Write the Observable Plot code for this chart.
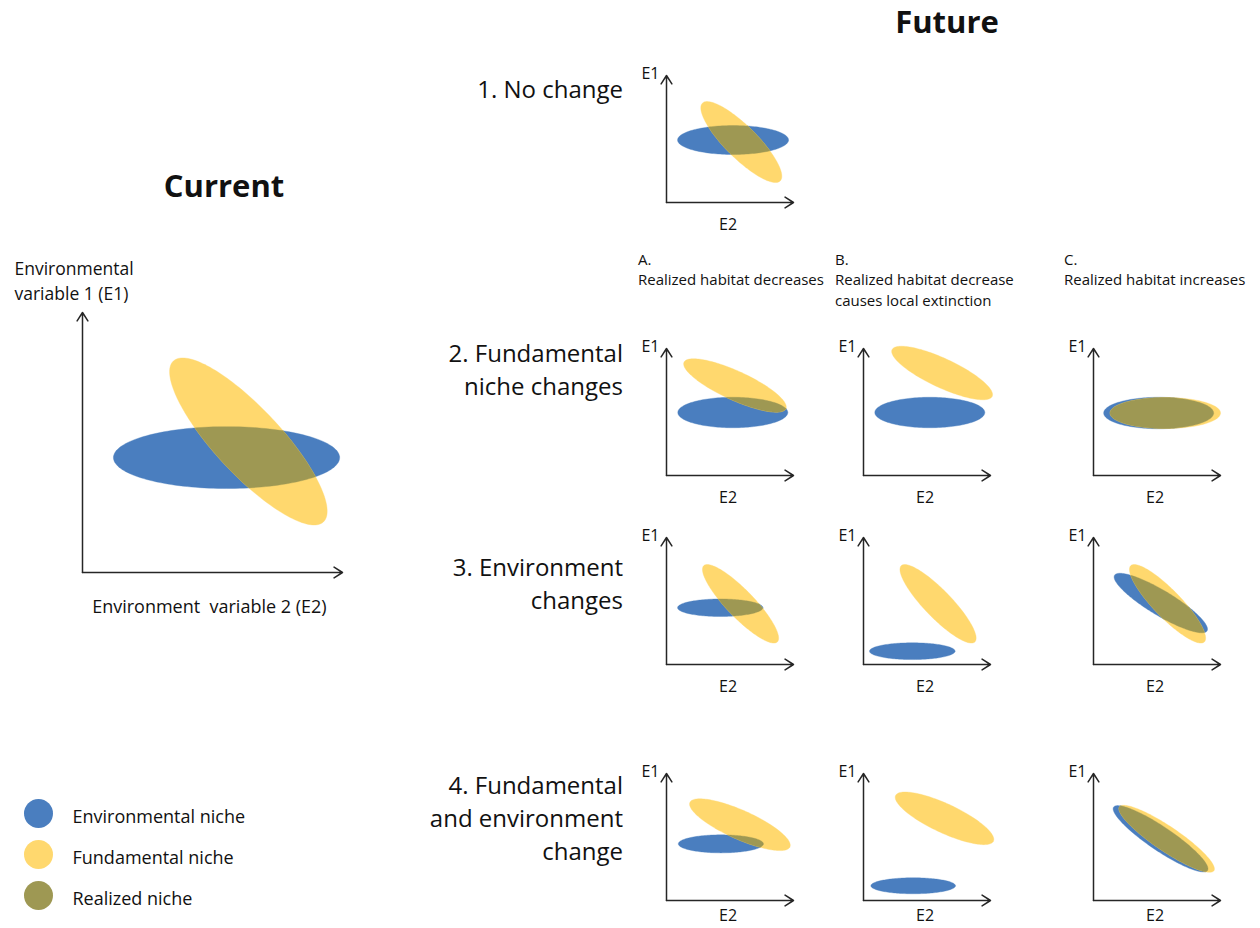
<!DOCTYPE html>
<html><head><meta charset="utf-8">
<script src="https://cdn.jsdelivr.net/npm/d3@7"></script>
<script src="https://cdn.jsdelivr.net/npm/@observablehq/plot@0.6"></script>
<style>
body{margin:0;background:#fff;}
#page{position:relative;width:1260px;height:928px;overflow:hidden;font-family:"Open Sans",sans-serif;color:#111;}
.t{position:absolute;white-space:pre;}
.title{font-weight:700;font-size:31px;line-height:31px;width:240px;text-align:center;}
.row{font-size:24px;line-height:33px;width:360px;text-align:right;}
.col{font-size:15px;line-height:20.5px;}
.panel{position:absolute;}
.panel svg{overflow:visible;}
</style></head><body><div id="page"></div>
<script>
// ---------- data ----------
const legendLabels = ["Environmental niche", "Fundamental niche", "Realized niche"];
const nicheColors = ["#4a7ebf", "#ffd86e", "#9e9853"];
const panelNames = ["current", "1", "2A", "2B", "2C", "3A", "3B", "3C", "4A", "4B", "4C"];
// environmental niche ellipses (axis units, 0–100)
const envCx    = [55.4, 52.4, 52.2, 52.2, 51.3, 42.3, 38.4, 53.0, 42.8, 39.1, 52.8];
const envCy    = [44.2, 49.2, 49.6, 49.6, 49.2, 44.7, 10.5, 48.4, 44.6, 11.6, 48.6];
const envRx    = [43.5, 43.7, 43.3, 43.3, 43.3, 33.6, 33.7, 42.5, 33.5, 33.3, 44.6];
const envRy    = [11.9, 11.4, 12.0, 12.0, 12.4,  6.9,  6.6,  9.8,  7.1,  6.3,  9.4];
const envAngle = [0, 0, 0, 0, 0, 0, 0, -31, 0, 0, -34];
// fundamental niche ellipses
const fundCx    = [63.8, 58.9, 53.9, 61.9, 56.5, 58.3, 58.7, 58.3, 57.8, 63.8, 57.6];
const fundCy    = [50.4, 47.6, 70.9, 80.7, 49.2, 47.8, 47.8, 47.8, 59.7, 64.7, 48.6];
const fundRx    = [42.3, 43.3, 44.1, 43.5, 43.5, 41.7, 41.7, 41.7, 43.1, 42.5, 44.9];
const fundRy    = [12.7, 12.6, 11.4, 11.4, 12.2, 10.8, 10.8, 10.8, 11.4, 11.4,  9.7];
const fundAngle = [-47, -45, -24.5, -25, 0, -46, -46, -46, -24, -25, -34];
const axisRange = [0, 100];
const smallAxisLabels = ["E1", "E2"];
const currentAxisLabels = ["Environmental\nvariable 1 (E1)", "Environment\u00a0 variable 2 (E2)"];
const titles = ["Current", "Future"];
const rowTitles = ["1. No change", "2. Fundamental\nniche changes", "3. Environment\nchanges", "4. Fundamental\nand environment\nchange"];
const colHeads = ["A.\nRealized habitat decreases", "B.\nRealized habitat decrease\ncauses local extinction", "C.\nRealized habitat increases"];

// ---------- geometry helpers ----------
function ellipse(cx, cy, rx, ry, deg, n = 160) {
  const th = deg * Math.PI / 180, c = Math.cos(th), s = Math.sin(th);
  return d3.range(n).map(k => {
    const t = 2 * Math.PI * k / n, ex = rx * Math.cos(t), ey = ry * Math.sin(t);
    return [cx + ex * c - ey * s, cy + ex * s + ey * c];
  });
}
function clipConvex(subject, clipPoly) {
  let out = subject;
  for (let i = 0; i < clipPoly.length && out.length; i++) {
    const A = clipPoly[i], B = clipPoly[(i + 1) % clipPoly.length];
    const inside = p => (B[0] - A[0]) * (p[1] - A[1]) - (B[1] - A[1]) * (p[0] - A[0]) >= 0;
    const inter = (P, Q) => {
      const den = (P[0] - Q[0]) * (A[1] - B[1]) - (P[1] - Q[1]) * (A[0] - B[0]);
      const t = ((P[0] - A[0]) * (A[1] - B[1]) - (P[1] - A[1]) * (A[0] - B[0])) / den;
      return [P[0] + t * (Q[0] - P[0]), P[1] + t * (Q[1] - P[1])];
    };
    const inp = out; out = [];
    for (let j = 0; j < inp.length; j++) {
      const P = inp[j], Q = inp[(j + 1) % inp.length];
      const pin = inside(P), qin = inside(Q);
      if (pin) { out.push(P); if (!qin) out.push(inter(P, Q)); }
      else if (qin) out.push(inter(P, Q));
    }
  }
  return out;
}
const pts = a => a.map(([x, y]) => ({x, y}));

// ---------- layout ----------
const page = document.getElementById("page");
function addDiv(cls, text, css) {
  const d = document.createElement("div");
  d.className = "t " + cls; d.textContent = text;
  Object.assign(d.style, css); page.appendChild(d); return d;
}
const SMALL = {size: 127, ml: 40, mt: 16, mr: 14, mb: 36};
const BIG = {size: 260, ml: 80, mt: 70, mr: 14, mb: 50};
const origins = {
  current: [82, 572],
  "1": [666, 202],
  "2A": [666, 475], "2B": [863, 475], "2C": [1092.7, 475],
  "3A": [666, 664], "3B": [863, 664], "3C": [1092.7, 664],
  "4A": [666, 900], "4B": [863, 900], "4C": [1092.7, 900]
};

function panel(i) {
  const name = panelNames[i];
  const big = name === "current";
  const L = big ? BIG : SMALL;
  const env = ellipse(envCx[i], envCy[i], envRx[i], envRy[i], envAngle[i]);
  const fund = ellipse(fundCx[i], fundCy[i], fundRx[i], fundRy[i], fundAngle[i]);
  const real = clipConvex(env, fund);
  const axes = [
    {x1: axisRange[0], y1: axisRange[0], x2: axisRange[0], y2: axisRange[1]},
    {x1: axisRange[0], y1: axisRange[0], x2: axisRange[1], y2: axisRange[0]}
  ];
  const shape = (data, color) => Plot.line(pts(data), {x: "x", y: "y", fill: color, stroke: color, strokeWidth: 0.6, strokeOpacity: 0.6, curve: "linear-closed"});
  const marks = [
    shape(env, nicheColors[0]),
    shape(fund, nicheColors[1]),
    real.length > 2 ? shape(real, nicheColors[2]) : null,
    Plot.arrow(axes, {x1: "x1", y1: "y1", x2: "x2", y2: "y2", stroke: "#262626", strokeWidth: 1.5, headLength: 10, headAngle: 65})
  ];
  if (big) {
    marks.push(Plot.text([currentAxisLabels[0]], {x: 0, y: 100, text: d => d, textAnchor: "start", lineAnchor: "top", dx: -68, dy: -55, fontSize: 17.5, lineHeight: 1.43}));
    marks.push(Plot.text([currentAxisLabels[1]], {x: 48.8, y: 0, text: d => d, lineAnchor: "top", dy: 28, fontSize: 18}));
  } else {
    const bottomRow = name.startsWith("4");
    marks.push(Plot.text([smallAxisLabels[0]], {x: 0, y: 100, text: d => d, textAnchor: "end", lineAnchor: "top", dx: -7, dy: -7.5, fontSize: 16}));
    marks.push(Plot.text([smallAxisLabels[1]], {x: 48.5, y: 0, text: d => d, lineAnchor: "top", dy: bottomRow ? 9.5 : 16.3, fontSize: 16}));
  }
  const svg = Plot.plot({
    width: L.ml + L.size + L.mr, height: L.mt + L.size + L.mb,
    marginLeft: L.ml, marginTop: L.mt, marginRight: L.mr, marginBottom: L.mb,
    x: {domain: axisRange, axis: null}, y: {domain: axisRange, axis: null},
    style: {fontFamily: "'Open Sans', sans-serif", color: "#111", background: "transparent"},
    marks
  });
  const div = document.createElement("div");
  div.className = "panel";
  const [ox, oy] = origins[name];
  div.style.left = (ox - L.ml) + "px";
  div.style.top = (oy - L.size - L.mt) + "px";
  div.appendChild(svg);
  page.appendChild(div);
}
panelNames.forEach((_, i) => panel(i));

// legend
const legend = Plot.plot({
  width: 300, height: 130, margin: 0,
  x: {domain: [0, 1], range: [38, 300], axis: null},
  y: {type: "point", domain: legendLabels, range: [22.5, 104.5], padding: 0, axis: null},
  color: {domain: legendLabels, range: nicheColors},
  style: {fontFamily: "'Open Sans', sans-serif", color: "#111", background: "transparent"},
  marks: [
    Plot.dot(legendLabels, {x: 0, y: d => d, r: 14.5, fill: d => d}),
    Plot.text(legendLabels, {x: 0, y: d => d, text: d => d, dx: 34, dy: 4, textAnchor: "start", fontSize: 18})
  ]
});
const ld = document.createElement("div");
ld.className = "panel"; ld.style.left = "0px"; ld.style.top = "790px";
ld.appendChild(legend); page.appendChild(ld);

// titles and headers
addDiv("title", titles[0], {left: (224 - 120) + "px", top: "169.5px"});
addDiv("title", titles[1], {left: (947 - 120) + "px", top: "5.5px"});
const rowBaselines = [97.3, 361.7, 576, 793.3];
rowTitles.forEach((t, k) => addDiv("row", t, {left: (623 - 360) + "px", top: (rowBaselines[k] - 25.8) + "px"}));
const colLefts = [638, 835, 1064];
colHeads.forEach((t, k) => addDiv("col", t, {left: colLefts[k] + "px", top: (265 - 16.1) + "px"}));
</script>
</body></html>
